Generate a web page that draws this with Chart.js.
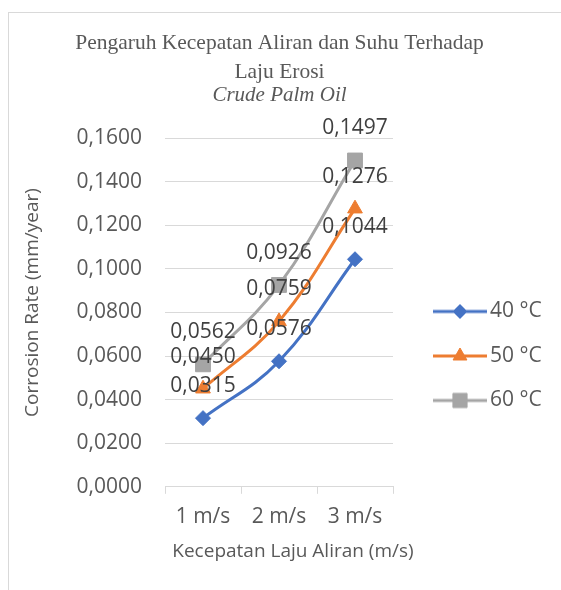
<!DOCTYPE html>
<html><head><meta charset="utf-8">
<script src="https://cdn.jsdelivr.net/npm/chart.js@4/dist/chart.umd.min.js"></script>
<style>
html,body{margin:0;padding:0;background:#fff;overflow:hidden;}
#wrap{position:relative;width:561px;height:590px;}
#frame{position:absolute;left:8px;top:12px;width:600px;height:600px;border:1px solid #d9d9d9;box-sizing:border-box;}
canvas{position:absolute;left:0;top:0;}
</style></head><body>
<div id="wrap"><div id="frame"></div><canvas id="c" width="561" height="590"></canvas></div>
<script>
// ---- data ----
const categories = ['1 m/s', '2 m/s', '3 m/s'];
const seriesNames = ['40 °C', '50 °C', '60 °C'];
const series40 = [0.0315, 0.0576, 0.1044];
const series50 = [0.0450, 0.0759, 0.1276];
const series60 = [0.0562, 0.0926, 0.1497];
const yMin = 0, yMax = 0.16, yStep = 0.02;
const titleLines = ['Pengaruh Kecepatan Aliran dan Suhu Terhadap', 'Laju Erosi'];
const subtitleText = 'Crude Palm Oil';
const yTitle = 'Corrosion Rate (mm/year)';
const xTitle = 'Kecepatan Laju Aliran (m/s)';

// ---- styles ----
const colors = ['#4472C4', '#ED7D31', '#A5A5A5'];
const markers = ['rectRot', 'triangle', 'rect'];
const markerR = [7.5, 8.5, 10.5];
const legendR = [7, 8, 10];
const SANS = "'Open Sans', sans-serif";
const SERIF = "'Liberation Serif', 'Times New Roman', serif";
const fmt = v => v.toFixed(4).replace('.', ',');

function legendImage(i) {
  const c = document.createElement('canvas');
  c.width = 78; c.height = 24;
  const g = c.getContext('2d');
  g.strokeStyle = colors[i]; g.lineWidth = 3;
  g.beginPath(); g.moveTo(24, 12); g.lineTo(78, 12); g.stroke();
  g.fillStyle = colors[i]; g.strokeStyle = colors[i]; g.lineWidth = 1;
  Chart.helpers.drawPoint(g, {pointStyle: markers[i], radius: legendR[i], borderWidth: 1, rotation: 0}, 51, 12);
  return c;
}

const dataLabels = {
  id: 'dataLabels',
  afterDatasetsDraw(chart) {
    const ctx = chart.ctx;
    ctx.save();
    ctx.font = "21px " + SANS;
    ctx.fillStyle = '#404040';
    ctx.textAlign = 'center';
    ctx.textBaseline = 'middle';
    chart.data.datasets.forEach((ds, di) => {
      const meta = chart.getDatasetMeta(di);
      meta.data.forEach((pt, i) => {
        ctx.fillText(fmt(ds.data[i]), pt.x, pt.y - 32);
      });
    });
    ctx.restore();
  }
};

// x-axis title drawn as text under the x scale (Excel places it slightly right of centre)
const xAxisTitle = {
  id: 'xAxisTitle',
  afterDraw(chart) {
    const ctx = chart.ctx, xs = chart.scales.x;
    ctx.save();
    ctx.font = "19px " + SANS;
    ctx.fillStyle = '#595959';
    ctx.textAlign = 'center';
    ctx.textBaseline = 'middle';
    ctx.fillText(xTitle, (xs.left + xs.right) / 2 + 14, xs.top + 65);
    ctx.restore();
  }
};

const allSeries = [series40, series50, series60];
const datasets = allSeries.map((d, i) => ({
  label: seriesNames[i],
  data: d,
  borderColor: colors[i],
  backgroundColor: colors[i],
  borderWidth: 3,
  tension: 0.4,
  pointStyle: markers[i],
  pointRadius: markerR[i],
  pointHoverRadius: markerR[i],
  pointBorderWidth: 1,
  pointBackgroundColor: colors[i],
  pointBorderColor: colors[i],
  order: 3 - i,
  fill: false
}));

let legendImgs;
new Chart(document.getElementById('c'), {
  type: 'line',
  data: { labels: categories, datasets },
  plugins: [dataLabels, xAxisTitle],
  options: {
    responsive: false,
    animation: false,
    events: [],
    layout: { padding: { left: 10, right: 12, top: 10, bottom: 49 } },
    plugins: {
      tooltip: { enabled: false },
      title: {
        display: true, text: titleLines, color: '#595959',
        font: { family: SERIF, size: 21.5, weight: 'normal', lineHeight: 1.35 },
        padding: { top: 19, bottom: 0 }
      },
      subtitle: {
        display: true, text: subtitleText, color: '#595959',
        font: { family: SERIF, size: 21, style: 'italic', weight: 'normal', lineHeight: 1 },
        padding: { top: -2, bottom: 32 }
      },
      legend: {
        position: 'right',
        maxWidth: 156,
        title: { display: true, text: '', font: { size: 10, lineHeight: 1 }, padding: { top: 151, bottom: 0 } },
        labels: {
          usePointStyle: true,
          pointStyleWidth: 63,
          padding: 23.5,
          color: '#595959',
          font: { family: SANS, size: 21 },
          generateLabels(chart) {
            if (!legendImgs) legendImgs = [0, 1, 2].map(legendImage);
            return chart.data.datasets.map((ds, i) => ({
              text: ds.label, datasetIndex: i, hidden: false,
              fillStyle: colors[i], strokeStyle: colors[i], lineWidth: 0,
              pointStyle: legendImgs[i], fontColor: '#595959'
            }));
          }
        }
      }
    },
    scales: {
      x: {
        type: 'category',
        offset: true,
        grid: { offset: true, drawOnChartArea: false, drawTicks: true, tickLength: 7, color: '#d9d9d9', lineWidth: 1 },
        border: { display: true, color: '#d9d9d9', width: 1 },
        ticks: { color: '#595959', font: { family: SANS, size: 21 }, padding: 11, maxRotation: 0 },
        title: { display: false }
      },
      y: {
        min: yMin, max: yMax,
        grid: { drawTicks: false, color: '#d9d9d9', lineWidth: 1 },
        border: { display: false },
        ticks: { stepSize: yStep, color: '#595959', font: { family: SANS, size: 21 }, padding: 23, callback: v => fmt(v) },
        title: { display: true, text: '    ' + yTitle, color: '#595959', font: { family: SANS, size: 19 }, padding: { top: 11, bottom: 0 } },
        afterFit(scale) { scale.width = 155; }
      }
    }
  }
});
</script>
</body></html>
